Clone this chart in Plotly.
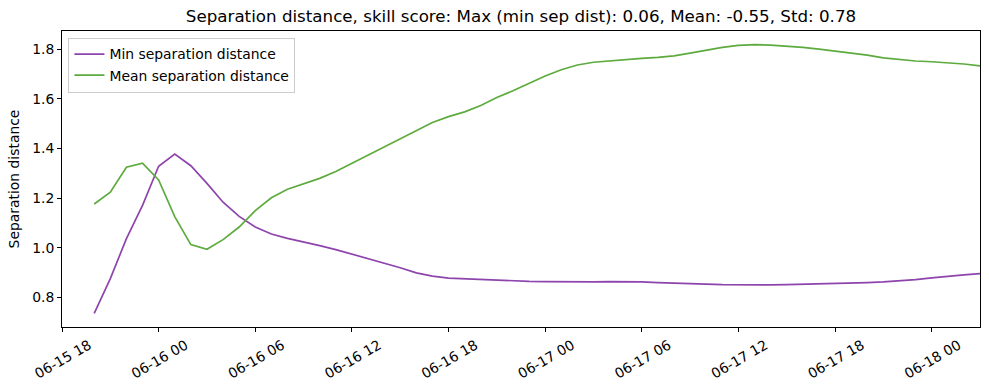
import pandas as pd
import plotly.graph_objects as go

times = pd.date_range("2023-06-15 20:00", periods=56, freq="h")

min_sep = [0.736, 0.876, 1.037, 1.171, 1.329, 1.378, 1.331, 1.260, 1.184, 1.127,
           1.084, 1.056, 1.038, 1.025, 1.009, 0.993, 0.975, 0.957, 0.938, 0.920,
           0.899, 0.886, 0.878, 0.875, 0.872, 0.868, 0.866, 0.865, 0.864, 0.863,
           0.863, 0.863, 0.864, 0.865, 0.863, 0.860, 0.857, 0.855, 0.854, 0.852,
           0.851, 0.851, 0.851, 0.852, 0.853, 0.854, 0.856, 0.858, 0.860, 0.863,
           0.867, 0.872, 0.879, 0.886, 0.891, 0.896]

mean_sep = [1.177, 1.224, 1.325, 1.341, 1.274, 1.126, 1.013, 0.994, 1.033, 1.084,
            1.150, 1.202, 1.236, 1.258, 1.280, 1.308, 1.341, 1.373, 1.405, 1.439,
            1.472, 1.505, 1.529, 1.548, 1.574, 1.606, 1.633, 1.662, 1.693, 1.718,
            1.737, 1.748, 1.754, 1.760, 1.764, 1.768, 1.774, 1.785, 1.798, 1.808,
            1.816, 1.819, 1.817, 1.813, 1.808, 1.801, 1.794, 1.786, 1.777, 1.766,
            1.758, 1.753, 1.750, 1.746, 1.741, 1.733]

title = "Separation distance, skill score: Max (min sep dist): 0.06, Mean: -0.55, Std: 0.78"
y_ticks = [0.8, 1.0, 1.2, 1.4, 1.6, 1.8]

FONT = "DejaVu Sans"
FS = 13.9

fig = go.Figure()
fig.add_trace(go.Scatter(x=times, y=min_sep, mode="lines", name="Min separation distance",
                         line=dict(color="#8e44ad", width=1.7)))
fig.add_trace(go.Scatter(x=times, y=mean_sep, mode="lines", name="Mean separation distance",
                         line=dict(color="#5dab3e", width=1.7)))

fig.update_layout(
    width=989, height=390,
    margin=dict(l=62, r=9, t=31, b=63),
    paper_bgcolor="white", plot_bgcolor="white",
    font=dict(family=FONT, size=FS, color="black"),
    title=dict(text=title, x=0.5, xref="paper", y=1 - 16 / 390, yref="container",
               yanchor="middle", xanchor="center", font=dict(size=16.7, color="black")),
    showlegend=True,
    legend=dict(x=0.007, y=0.978, xanchor="left", yanchor="top",
                bgcolor="rgba(255,255,255,0.8)", bordercolor="#cccccc", borderwidth=1,
                font=dict(size=FS), itemwidth=30, tracegroupgap=0),
)

fig.update_xaxes(
    range=["2023-06-15 18:00", "2023-06-18 03:00"],
    tick0="2023-06-15 18:00", dtick=6 * 3600 * 1000,
    tickformat="%m-%d %H", tickangle=-30, ticklabelshift=27,
    ticks="outside", ticklen=4, tickcolor="black", tickwidth=1,
    showgrid=False, zeroline=False,
    showline=True, linecolor="black", linewidth=1, mirror=True,
    tickfont=dict(size=FS), automargin=False,
)
fig.update_yaxes(
    range=[0.681, 1.874], tickvals=y_ticks, ticktext=[f"{v:.1f}" for v in y_ticks],
    ticks="outside", ticklen=4, tickcolor="black", tickwidth=1,
    showgrid=False, zeroline=False,
    showline=True, linecolor="black", linewidth=1, mirror=True,
    title=dict(text="Separation distance", standoff=9, font=dict(size=FS)),
    tickfont=dict(size=FS), automargin=False,
)

fig.write_html("out.html")
